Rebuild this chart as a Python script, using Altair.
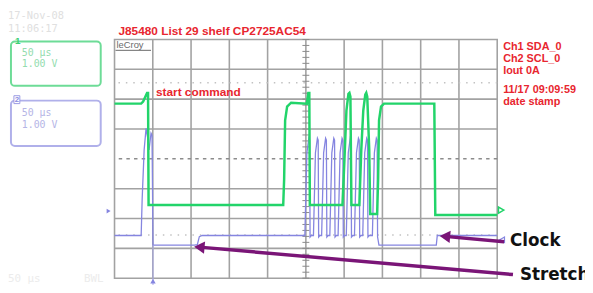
import altair as alt
import pandas as pd
import numpy as np

# ---- data (time in microseconds, level in screen divisions) ----
sda_t = [-250, -215.2, -212.6, -207.5, -206.2, -205.5, -29.6, -28.4, -27.1, -24.5, -19.3,
         1.3, 3.2, 4.5, 5.2, 47.8, 50.4, 53.0, 55.6, 56.9, 58.2, 59.5, 69.9, 72.4, 75.0,
         77.6, 78.9, 80.2, 82.8, 84.1, 93.1, 94.4, 95.6, 98.2, 102.1, 167.8, 169.1, 250]
sda_v = [1.85, 1.85, 1.92, 2.21, 2.21, -1.55, -1.55, -0.69, 1.29, 1.75, 1.88,
         1.85, 2.21, 2.21, -1.55, -1.55, -0.03, 1.62, 2.18, 2.21, 2.08, -1.55, -1.55, 0.30, 1.62,
         2.15, 2.21, 2.08, 0.30, -1.85, -1.85, -0.69, 1.29, 1.75, 1.85, 1.85, -1.88, -1.88]

scl_t = [-250, -215.2, -213.9, -211.3, -208.8, -206.2, -204.9, -202.3, -201.0, -199.7,
         -145.6, -141.8, -139.2, -135.3,
         -1.3, 1.3, 3.9, 4.9, 5.5, 7.1,
         9.9, 12.5, 15.1, 16.1, 16.7, 18.3,
         20.6, 23.2, 25.8, 26.8, 27.4, 29.0,
         31.3, 33.9, 36.5, 37.5, 38.1, 39.7,
         42.1, 44.7, 47.3, 48.3, 48.9, 50.5,
         52.8, 55.4, 58.0, 59.0, 59.6, 61.2,
         63.5, 66.1, 68.7, 69.7, 70.3, 71.9,
         74.3, 76.9, 79.5, 80.5, 81.1, 82.7,
         86.9, 89.5, 92.1, 93.1, 93.7, 95.5,
         170.4, 171.7, 250]
scl_v = [-2.57, -2.57, -1.36, 0.30, 1.02, 0.63, 0.30, 0.86, 0.79, -2.89,
         -2.89, -2.88, -2.61, -2.57,
         -2.57, 0.2, 0.69, 0.63, -2.62, -2.57,
         -2.57, 0.2, 0.69, 0.63, -2.62, -2.57,
         -2.57, 0.2, 0.69, 0.63, -2.62, -2.57,
         -2.57, 0.2, 0.69, 0.63, -2.62, -2.57,
         -2.57, 0.2, 0.69, 0.63, -2.62, -2.57,
         -2.57, 0.2, 0.69, 0.63, -2.62, -2.57,
         -2.57, 0.2, 0.69, 0.63, -2.62, -2.57,
         -2.57, 0.2, 0.69, 0.63, -2.62, -2.57,
         -2.57, 0.2, 0.69, 0.63, -2.62, -2.89,
         -2.89, -2.57, -2.57]

# grid lines (divisions)
vgrid = [-200, -150, -100, -50, 0, 50, 100, 150, 200]
hgrid = [-3, -2, -1, 1, 2, 3]
dotted_levels = [2.55, -2.55]
tick_levels = [round(v, 2) for v in np.arange(-4, 4.001, 0.2)]

# annotation arrows: tail -> head
arrow_names = ["Clock", "Stretch"]
arrow_tail_t = [259.0, 270.6]
arrow_tail_v = [-2.78, -3.88]
arrow_head_t = [181.7, -139.2]
arrow_head_v = [-2.60, -2.96]

GRID = "#a2a2a2"
GREEN = "#22d46a"
BLUE = "#8585e0"
RED = "#e8262f"
PURPLE = "#7a1577"

xs = alt.Scale(domain=[-250, 250], nice=False, zero=False)
ys = alt.Scale(domain=[-4, 4], nice=False, zero=False)
ONE = pd.DataFrame({"k": [0]})

sda = pd.DataFrame({"t": sda_t, "v": sda_v, "i": range(len(sda_t))})
scl = pd.DataFrame({"t": scl_t, "v": scl_v, "i": range(len(scl_t))})
arrows = pd.DataFrame({"name": arrow_names, "t0": arrow_tail_t, "v0": arrow_tail_v,
                       "t1": arrow_head_t, "v1": arrow_head_v})

layers = []
layers.append(alt.Chart(pd.DataFrame({"v": hgrid})).mark_rule(color=GRID, strokeWidth=1.6).encode(
    y=alt.Y("v:Q", scale=ys, axis=None)))
layers.append(alt.Chart(pd.DataFrame({"t": vgrid})).mark_rule(color=GRID, strokeWidth=1.6).encode(
    x=alt.X("t:Q", scale=xs, axis=None)))
layers.append(alt.Chart(pd.DataFrame({"v": [0]})).mark_rule(color="#8c8c8c", strokeWidth=1.5, strokeDash=[3.5, 4.26]).encode(
    y=alt.Y("v:Q", scale=ys, axis=None)))
layers.append(alt.Chart(pd.DataFrame({"v": tick_levels})).mark_rule(color="#8a8a8a", strokeWidth=1).encode(
    y=alt.Y("v:Q", scale=ys, axis=None), x=alt.value(190.5), x2=alt.value(197.5)))
layers.append(alt.Chart(pd.DataFrame({"v": dotted_levels})).mark_rule(color="#c2c2c2", strokeWidth=1.5, strokeDash=[1.5, 6]).encode(
    y=alt.Y("v:Q", scale=ys, axis=None)))

# SCL trace (blue)
layers.append(alt.Chart(scl).mark_line(color=BLUE, strokeWidth=1.3, interpolate="linear").encode(
    x=alt.X("t:Q", scale=xs, axis=None), y=alt.Y("v:Q", scale=ys, axis=None), order="i:Q"))
# trigger line / marker
layers.append(alt.Chart(ONE).mark_rule(color="#a9a9ea", strokeWidth=1).encode(
    x=alt.value(39), y=alt.value(208), y2=alt.value(252)))
layers.append(alt.Chart(ONE).mark_point(shape="triangle-up", filled=True, color=BLUE, size=30, opacity=1).encode(
    x=alt.value(39), y=alt.value(245)))
# SDA trace (green)
layers.append(alt.Chart(sda).mark_line(color=GREEN, strokeWidth=2.5, interpolate="linear").encode(
    x=alt.X("t:Q", scale=xs, axis=None), y=alt.Y("v:Q", scale=ys, axis=None), order="i:Q"))

# channel markers
layers.append(alt.Chart(ONE).mark_point(shape="triangle-right", filled=True, color=BLUE, size=22, opacity=1).encode(
    x=alt.value(-6), y=alt.value(174)))
layers.append(alt.Chart(ONE).mark_point(shape="triangle-right", filled=False, color=GREEN, size=40, strokeWidth=1.5, opacity=1).encode(
    x=alt.value(392), y=alt.value(173)))
layers.append(alt.Chart(ONE).mark_point(shape="triangle-left", filled=False, color=BLUE, size=30, strokeWidth=1.2, opacity=1).encode(
    x=alt.value(393), y=alt.value(203)))

# arrows
layers.append(alt.Chart(arrows).mark_rule(color=PURPLE, strokeWidth=3.5).encode(
    x=alt.X("t0:Q", scale=xs, axis=None), x2="t1:Q",
    y=alt.Y("v0:Q", scale=ys, axis=None), y2="v1:Q"))
layers.append(alt.Chart(arrows).mark_point(shape="triangle-left", filled=True, color=PURPLE, size=150, angle=5.3, opacity=1).encode(
    x=alt.X("t1:Q", scale=xs, axis=None), y=alt.Y("v1:Q", scale=ys, axis=None)))


def label(text, x, y, size, color, weight="normal", font="Liberation Sans", align="left"):
    return alt.Chart(ONE).mark_text(fontSize=size, color=color, fontWeight=weight, font=font,
                                    align=align, baseline="middle").encode(
        x=alt.value(x), y=alt.value(y), text=alt.value(text))


def box(x0, x1, y0, y1, color):
    return alt.Chart(ONE).mark_rect(fillOpacity=0, stroke=color, strokeWidth=2, cornerRadius=4).encode(
        x=alt.value(x0), x2=alt.value(x1), y=alt.value(y0), y2=alt.value(y1))


MONO = "DejaVu Sans Mono"
layers += [
    label("17-Nov-08", -108, -23.5, 10.5, "#e0e0e0", font=MONO),
    label("11:06:17", -108, -10.5, 10.5, "#e0e0e0", font=MONO),
    label("J85480 List 29 shelf CP2725AC54", 4, -9, 12, RED, "bold"),
    label("leCroy", 2, 6, 9.5, "#6a6a6a"),
    alt.Chart(ONE).mark_rule(color="#6a6a6a", strokeWidth=1).encode(
        x=alt.value(1), x2=alt.value(37), y=alt.value(11)),
    label("start command", 42, 53, 12, RED, "bold"),
    label("Ch1 SDA_0", 394, 8, 11, RED, "bold"),
    label("Ch2 SCL_0", 394, 20, 11, RED, "bold"),
    label("Iout 0A", 394, 32, 11, RED, "bold"),
    label("11/17 09:09:59", 394, 51, 11, RED, "bold"),
    label("date stamp", 394, 63, 11, RED, "bold"),
    box(-105, -14, 2, 47, "#6ddc97"),
    label("1", -101, 2, 10, "#3ccf73", "bold"),
    label("50 \u03bcs", -94, 14, 10, "#93dcae", font=MONO),
    label("1.00 V", -94, 25, 10, "#93dcae", font=MONO),
    box(-105, -14, 62, 108, "#b0b0ea"),
    alt.Chart(ONE).mark_rect(fill="white", stroke="#9a9ae4", strokeWidth=1).encode(
        x=alt.value(-102), x2=alt.value(-96), y=alt.value(57), y2=alt.value(65)),
    label("2", -99, 61, 8, "#8c8ce0", "bold", align="center"),
    label("50 \u03bcs", -94, 75, 10, "#b5b5e6", font=MONO),
    label("1.00 V", -94, 86.5, 10, "#b5b5e6", font=MONO),
    label("50 \u03bcs", -108, 243, 11, "#ececec", font=MONO),
    label("BWL", -31, 243, 11, "#ececec", font=MONO),
    label("Clock", 401, 204, 17, "#111111", "bold", font="DejaVu Sans"),
    label("Stretch", 411, 239, 17, "#111111", "bold", font="DejaVu Sans"),
]

chart = alt.layer(*layers).properties(
    width=388, height=242,
    padding={"left": 108, "top": 30, "right": 89, "bottom": 5},
    autosize=alt.AutoSizeParams(type="none"),
    background="white",
).configure_view(stroke=GRID, strokeWidth=1.6)

chart.save("out.html", embed_options={"renderer": "svg", "actions": False})
